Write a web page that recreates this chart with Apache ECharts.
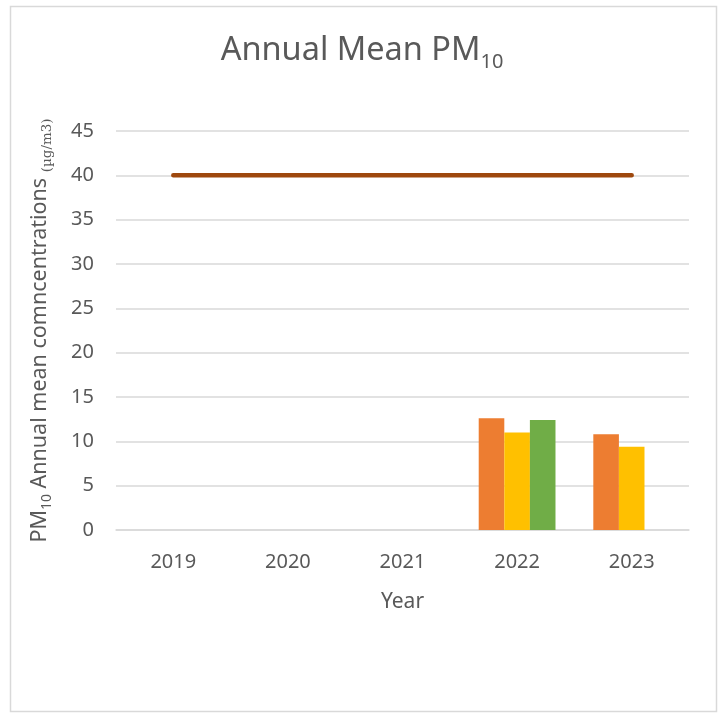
<!DOCTYPE html>
<html>
<head>
<meta charset="utf-8">
<title>Annual Mean PM10</title>
<script src="https://cdn.jsdelivr.net/npm/echarts@6/dist/echarts.min.js"></script>
<style>
  html, body { margin: 0; padding: 0; background: #ffffff; }
  #chart { width: 724px; height: 714px; }
</style>
</head>
<body>
<div id="chart"></div>
<script>
// Years on the category axis
const years = ['2019', '2020', '2021', '2022', '2023'];

// Annual mean PM10 at each monitoring site (µg/m3); null = no measurement
const siteA = [null, null, null, 12.6, 10.8];
const siteB = [null, null, null, 11.0, 9.4];
const siteC = [null, null, null, 12.4, null];

// Annual mean objective (µg/m3)
const objective = [40, 40, 40, 40, 40];

// Value axis ticks
const yMin = 0;
const yMax = 45;
const yStep = 5;

const textColor = '#595959';
const gridColor = '#D9D9D9';
const font = '"Noto Sans", "Open Sans", sans-serif';

const chart = echarts.init(document.getElementById('chart'), null, { renderer: 'canvas' });

chart.setOption({
  animation: false,
  backgroundColor: '#ffffff',
  textStyle: { fontFamily: font, color: textColor },
  graphic: [{
    type: 'rect',
    shape: { x: 10.5, y: 6.5, width: 706, height: 705 },
    style: { fill: 'none', stroke: gridColor, lineWidth: 1.5 },
    silent: true
  }],
  title: {
    left: 'center',
    top: 25,
    text: '{a|Annual Mean PM}{s|10}',
    textStyle: {
      fontWeight: 'normal',
      rich: {
        a: { fontFamily: font, fontSize: 32.5, fontWeight: 'normal', color: textColor, lineHeight: 42, verticalAlign: 'middle' },
        s: { fontFamily: font, fontSize: 20, fontWeight: 'normal', color: textColor, lineHeight: 26, verticalAlign: 'bottom' }
      }
    }
  },
  grid: { left: 116, right: 35, top: 131, bottom: 184, containLabel: false },
  xAxis: {
    type: 'category',
    data: years,
    axisLine: { show: true, lineStyle: { color: gridColor, width: 1.5 } },
    axisTick: { show: false },
    axisLabel: { color: textColor, fontSize: 20, fontFamily: font, margin: 22 },
    name: 'Year',
    nameLocation: 'middle',
    nameGap: 62,
    nameTextStyle: { color: textColor, fontSize: 21, fontFamily: font }
  },
  yAxis: {
    type: 'value',
    min: yMin,
    max: yMax,
    interval: yStep,
    axisLine: { show: false },
    axisTick: { show: false },
    splitLine: { lineStyle: { color: gridColor, width: 1.5 } },
    axisLabel: { color: textColor, fontSize: 20, fontFamily: font, margin: 22 },
    name: '{a|PM}{s|10}{a| Annual mean comncentrations }{u|(µg/m3)}',
    nameLocation: 'middle',
    nameRotate: 90,
    nameGap: 62,
    nameTextStyle: {
      rich: {
        a: { fontFamily: font, fontSize: 21.5, color: textColor, lineHeight: 28, verticalAlign: 'middle' },
        s: { fontFamily: font, fontSize: 14, color: textColor, lineHeight: 20, verticalAlign: 'bottom' },
        u: { fontFamily: '"DejaVu Serif", "Liberation Serif", serif', fontSize: 13.5, color: textColor, lineHeight: 22, verticalAlign: 'bottom' }
      }
    }
  },
  series: [
    {
      name: 'Site A',
      type: 'bar',
      data: siteA,
      barGap: '0%',
      barCategoryGap: '33%',
      itemStyle: { color: '#ED7D31' }
    },
    {
      name: 'Site B',
      type: 'bar',
      data: siteB,
      barGap: '0%',
      barCategoryGap: '33%',
      itemStyle: { color: '#FFC000' }
    },
    {
      name: 'Site C',
      type: 'bar',
      data: siteC,
      barGap: '0%',
      barCategoryGap: '33%',
      itemStyle: { color: '#70AD47' }
    },
    {
      name: 'Objective',
      type: 'line',
      data: objective,
      showSymbol: false,
      symbol: 'none',
      lineStyle: { color: '#9E480E', width: 4.5, cap: 'round' },
      z: 5
    }
  ]
});
</script>
</body>
</html>
